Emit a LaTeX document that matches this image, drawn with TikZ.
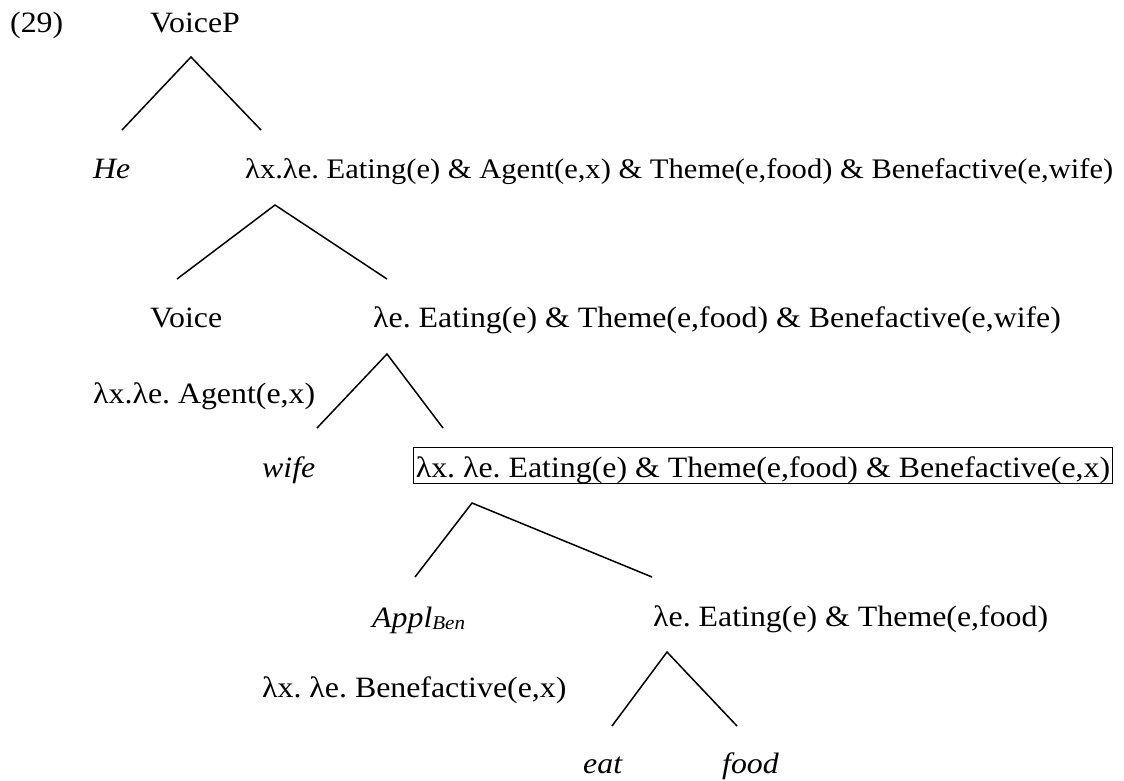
\documentclass[tikz,border=0pt]{standalone}
\usepackage{fontspec}
\setmainfont[FakeStretch=1.08]{Liberation Serif}
\frenchspacing
\begin{document}
\begin{tikzpicture}[x=1pt,y=-1pt,
  lbl/.style={anchor=base west,inner sep=0pt,font=\fontsize{29.5}{36}\selectfont},
  itl/.style={lbl,font=\fontsize{29.5}{36}\selectfont\itshape},
  tight/.style={lbl,font=\fontsize{28.3}{36}\selectfont},
  boxed/.style={lbl,draw,line width=1.6pt,inner xsep=2.5pt,inner ysep=0pt,text height=29.5pt,text depth=6.5pt},
  branch/.style={line width=1.5pt}]
\useasboundingbox (0,0) rectangle (1124,780);

% labels, placed by left edge and baseline
\node[lbl] (num)    at (10,32)  {(29)};
\node[lbl] (voicep) at (150,32) {VoiceP};
\node[itl] (he)     at (93,178) {He};
\node[tight] (vbar) at (245,178) {λx.λe. Eating(e) \& Agent(e,x) \& Theme(e,food) \& Benefactive(e,wife)};
\node[lbl] (voice)  at (150,327) {Voice};
\node[lbl] (applp)  at (373,327) {λe. Eating(e) \& Theme(e,food) \& Benefactive(e,wife)};
\node[lbl] (voicem) at (93,403) {λx.λe. Agent(e,x)};
\node[itl] (wife)   at (262,477) {wife};
\node[boxed] (abar) at (412.5,477) {λx. λe. Eating(e) \& Theme(e,food) \& Benefactive(e,x)};
\node[itl] (appl)   at (372,627) {Appl\raisebox{-2pt}{\fontsize{19.5}{20}\selectfont\itshape Ben}};
\node[lbl] (vp)     at (653,626) {λe. Eating(e) \& Theme(e,food)};
\node[lbl] (applm)  at (262,697) {λx. λe. Benefactive(e,x)};
\node[itl] (eat)    at (583,773) {eat};
\node[itl] (food)   at (722,773) {food};

% branch points
\coordinate (a1) at (191,57);  \coordinate (l1) at (122,130); \coordinate (r1) at (261,130);
\coordinate (a2) at (275,205); \coordinate (l2) at (177,279); \coordinate (r2) at (387,279);
\coordinate (a3) at (387,354); \coordinate (l3) at (317,428); \coordinate (r3) at (443,428);
\coordinate (a4) at (472,503); \coordinate (l4) at (415,577); \coordinate (r4) at (652,577);
\coordinate (a5) at (667,652); \coordinate (l5) at (612,726); \coordinate (r5) at (737,726);

% branches
\draw[branch] (l1) -- (a1) -- (r1);
\draw[branch] (l2) -- (a2) -- (r2);
\draw[branch] (l3) -- (a3) -- (r3);
\draw[branch] (l4) -- (a4) -- (r4);
\draw[branch] (l5) -- (a5) -- (r5);
\end{tikzpicture}
\end{document}
